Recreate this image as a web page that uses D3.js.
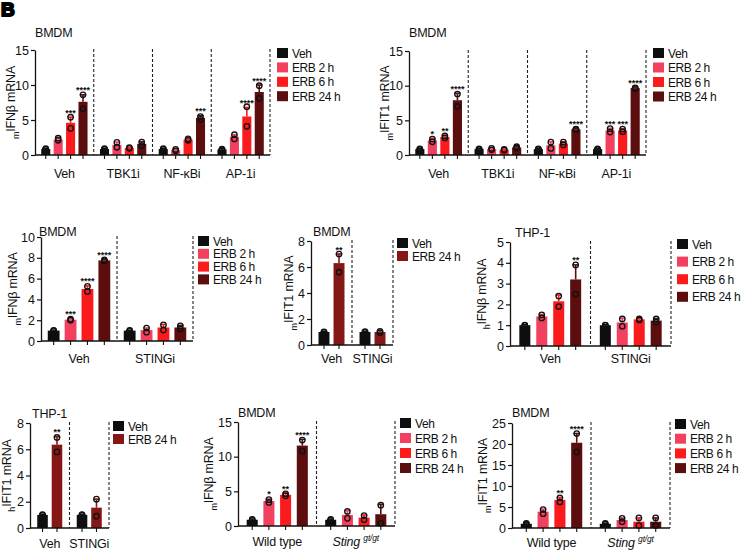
<!DOCTYPE html>
<html><head><meta charset="utf-8">
<script src="https://cdn.jsdelivr.net/npm/d3@7/dist/d3.min.js"></script>
<style>
html,body{margin:0;padding:0;background:#fff;}
svg{display:block;font-family:"Liberation Sans",Arial,sans-serif;}
</style></head>
<body><svg id="c" width="742" height="551"></svg>
<script>
// ---------- shared series ----------
const SERIES4 = ["Veh", "ERB 2 h", "ERB 6 h", "ERB 24 h"];
const SERIES2 = ["Veh", "ERB 24 h"];
const COLORS4 = ["#0e0e0e", "#f3405f", "#fb1b1d", "#5c0d0d"];
const COLORS2 = ["#0e0e0e", "#861717"];

// ---------- Panel A: BMDM mIFNβ ----------
const aGroups = ["Veh", "TBK1i", "NF-κBi", "AP-1i"];
const aMeans = [[0.85, 2.2, 4.6, 7.6], [0.85, 1.45, 1.0, 1.6], [0.85, 0.7, 2.2, 5.3], [0.8, 2.6, 5.5, 9.0]];
const aErr = [[0.1, 0.3, 0.8, 1.0], [0.1, 0.4, 0.1, 0.3], [0.1, 0.1, 0.1, 0.3], [0.1, 0.3, 1.3, 1.0]];
const aPts = [[[0.8, 0.9], [2.1, 2.4], [3.8, 5.4], [6.6, 8.6]], [[0.8, 0.9], [1.1, 1.8], [0.95, 1.05], [1.35, 1.85]],
              [[0.8, 0.9], [0.6, 0.8], [2.1, 2.3], [5.1, 5.5]], [[0.75, 0.85], [2.3, 2.9], [4.1, 6.9], [8.1, 9.9]]];
const aStars = [["", "", "***", "****"], ["", "", "", ""], ["", "", "", "***"], ["", "", "****", "****"]];
const aTicks = [0, 5, 10, 15];

// ---------- Panel B: BMDM mIFIT1 ----------
const bGroups = ["Veh", "TBK1i", "NF-κBi", "AP-1i"];
const bMeans = [[0.85, 2.1, 2.6, 7.9], [0.85, 0.85, 0.75, 1.1], [0.85, 1.4, 1.65, 3.7], [0.85, 3.55, 3.55, 9.65]];
const bErr = [[0.1, 0.3, 0.25, 1.0], [0.1, 0.1, 0.1, 0.1], [0.1, 0.5, 0.25, 0.1], [0.1, 0.3, 0.25, 0.15]];
const bPts = [[[0.8, 0.9], [1.9, 2.3], [2.45, 2.75], [7.0, 8.8]], [[0.8, 0.9], [0.75, 0.95], [0.7, 0.8], [1.0, 1.2]],
              [[0.8, 0.9], [0.95, 1.85], [1.45, 1.85], [3.65, 3.75]], [[0.8, 0.9], [3.3, 3.8], [3.35, 3.75], [9.6, 9.7]]];
const bStars = [["", "*", "**", "****"], ["", "", "", ""], ["", "", "", "****"], ["", "***", "***", "****"]];
const bTicks = [0, 5, 10, 15];

// ---------- Panel C: BMDM mIFNβ STINGi ----------
const cGroups = ["Veh", "STINGi"];
const cMeans = [[1.0, 2.05, 5.0, 7.75], [1.0, 1.05, 1.3, 1.3]];
const cErr = [[0.05, 0.07, 0.3, 0.07], [0.05, 0.2, 0.3, 0.2]];
const cPts = [[[0.97, 1.03], [2.0, 2.1], [4.75, 5.25], [7.7, 7.8]], [[0.97, 1.03], [0.85, 1.25], [1.05, 1.55], [1.15, 1.45]]];
const cStars = [["", "***", "****", "****"], ["", "", "", ""]];
const cTicks = [0, 2, 4, 6, 8, 10];

// ---------- Panel D: BMDM mIFIT1 STINGi ----------
const dGroups = ["Veh", "STINGi"];
const dMeans = [[1.0, 6.3], [1.0, 1.0]];
const dErr = [[0.05, 0.7], [0.05, 0.1]];
const dPts = [[[0.98, 1.02], [5.6, 7.0]], [[0.97, 1.03], [0.95, 1.05]]];
const dStars = [["", "**"], ["", ""]];
const dTicks = [0, 2, 4, 6, 8];

// ---------- Panel E: THP-1 hIFNβ ----------
const eGroups = ["Veh", "STINGi"];
const eMeans = [[1.0, 1.42, 2.15, 3.2], [1.0, 1.13, 1.28, 1.22]];
const eErr = [[0.03, 0.1, 0.3, 0.7], [0.03, 0.2, 0.05, 0.1]];
const ePts = [[[0.99, 1.01], [1.35, 1.5], [1.9, 2.4], [2.5, 3.9]], [[0.99, 1.01], [0.95, 1.3], [1.25, 1.3], [1.15, 1.3]]];
const eStars = [["", "", "", "**"], ["", "", "", ""]];
const eTicks = [0, 1, 2, 3, 4, 5];

// ---------- Panel F: THP-1 hIFIT1 ----------
const fGroups = ["Veh", "STINGi"];
const fMeans = [[1.0, 6.35], [1.0, 1.55]];
const fErr = [[0.05, 0.6], [0.05, 0.65]];
const fPts = [[[0.98, 1.02], [5.8, 6.9]], [[0.98, 1.02], [0.9, 2.2]]];
const fStars = [["", "**"], ["", ""]];
const fTicks = [0, 2, 4, 6, 8];

// ---------- Panel G: BMDM mIFNβ Sting gt/gt ----------
const gGroups = ["Wild type", "Sting"];
const gMeans = [[0.9, 3.6, 4.5, 11.6], [0.9, 1.6, 1.2, 1.7]];
const gErr = [[0.1, 0.3, 0.25, 0.9], [0.1, 0.6, 0.4, 1.4]];
const gPts = [[[0.85, 0.95], [3.4, 3.8], [4.35, 4.65], [10.8, 12.4]], [[0.85, 0.95], [1.1, 2.1], [0.9, 1.5], [0.4, 3.0]]];
const gStars = [["", "*", "**", "****"], ["", "", "", ""]];
const gTicks = [0, 5, 10, 15];

// ---------- Panel H: BMDM mIFIT1 Sting gt/gt ----------
const hGroups = ["Wild type", "Sting"];
const hMeans = [[1.0, 3.9, 6.7, 20.3], [1.0, 1.9, 1.5, 1.5]];
const hErr = [[0.2, 0.6, 0.6, 2.2], [0.1, 0.5, 0.9, 0.9]];
const hPts = [[[0.9, 1.1], [3.4, 4.4], [6.2, 7.2], [18.1, 22.5]], [[0.9, 1.1], [1.5, 2.3], [0.6, 2.4], [0.6, 2.4]]];
const hStars = [["", "", "**", "****"], ["", "", "", ""]];
const hTicks = [0, 5, 10, 15, 20, 25];

const svg = d3.select("#c");

// panel letter
svg.append("text").attr("x", 1).attr("y", 16).attr("font-size", 19).attr("font-weight", 900)
  .attr("stroke", "#000").attr("stroke-width", 2).text("B");

function panel(c) {
  const g = svg.append("g");
  const ymax = c.ticks[c.ticks.length - 1];
  const y = d3.scaleLinear().domain([0, ymax]).range([c.yb, c.yt]);
  const x = d3.scaleBand().domain(c.groups).range([c.x0, c.x1]);
  const xs = d3.scaleBand().domain(d3.range(c.series.length)).range([0, x.bandwidth()])
    .paddingInner(c.pi).paddingOuter(c.po);
  const bw = xs.bandwidth();

  // dashed separators
  c.groups.forEach(grp => {
    const xx = x(grp) + x.bandwidth();
    g.append("line").attr("x1", xx).attr("x2", xx).attr("y1", c.yt - 1).attr("y2", c.yb)
      .attr("stroke", "#222").attr("stroke-width", 1.1).attr("stroke-dasharray", "3,2");
  });

  // bars
  c.groups.forEach((grp, gi) => {
    c.means[gi].forEach((m, si) => {
      const cx = x(grp) + xs(si) + bw / 2;
      const col = c.colors[si];
      g.append("rect").attr("x", cx - bw / 2).attr("y", y(m)).attr("width", bw).attr("height", y(0) - y(m))
        .attr("fill", col);
      const top = m + c.err[gi][si];
      g.append("line").attr("x1", cx).attr("x2", cx).attr("y1", y(m)).attr("y2", y(top))
        .attr("stroke", col).attr("stroke-width", 1.6);
      g.append("line").attr("x1", cx - 3.2).attr("x2", cx + 3.2).attr("y1", y(top)).attr("y2", y(top))
        .attr("stroke", col).attr("stroke-width", 1.6);
      c.pts[gi][si].forEach(p => {
        g.append("circle").attr("cx", cx).attr("cy", y(p)).attr("r", 2.7)
          .attr("fill", "none").attr("stroke", "#111").attr("stroke-width", 1.3);
      });
      if (c.stars[gi][si]) {
        g.append("text").attr("x", cx).attr("y", y(top) - 1.5).attr("text-anchor", "middle")
          .attr("font-size", 9).attr("font-weight", "bold").attr("fill", "#111").text(c.stars[gi][si]);
      }
      // x tick
      g.append("line").attr("x1", cx).attr("x2", cx).attr("y1", c.yb).attr("y2", c.yb + 4)
        .attr("stroke", "#111").attr("stroke-width", 1.1);
    });
    // group label
    const lx = x(grp) + x.bandwidth() / 2;
    const t = g.append("text").attr("x", lx).attr("y", c.xly).attr("text-anchor", "middle")
      .attr("font-size", 12.5).attr("letter-spacing", -0.2).attr("fill", "#111");
    if (grp === "Sting") {
      t.append("tspan").attr("font-style", "italic").text("Sting ");
      t.append("tspan").attr("font-style", "italic").attr("font-size", 8.5).attr("dy", -5).text("gt/gt");
    } else {
      t.text(grp);
    }
  });

  // x axis line
  g.append("line").attr("x1", c.x0).attr("x2", c.x1).attr("y1", c.yb).attr("y2", c.yb)
    .attr("stroke", "#111").attr("stroke-width", 1.3);

  // y axis
  const ax = g.append("g").attr("transform", `translate(${c.x0},0)`)
    .call(d3.axisLeft(y).tickValues(c.ticks).tickSize(4).tickSizeOuter(0).tickPadding(2).tickFormat(d3.format("d")));
  ax.select(".domain").attr("stroke", "#111").attr("stroke-width", 1.3);
  ax.selectAll(".tick line").attr("stroke", "#111").attr("stroke-width", 1.2);
  ax.selectAll(".tick text").attr("font-size", 12.5).attr("fill", "#111")
    .attr("font-family", "Liberation Sans, Arial, sans-serif");

  // title
  g.append("text").attr("x", c.tx).attr("y", c.ty).attr("font-size", 12.5).attr("letter-spacing", -0.2)
    .attr("fill", "#111").text(c.title);

  // y label
  const ycen = (c.yt + c.yb) / 2;
  const yl = g.append("text").attr("transform", `translate(${c.ylx},${ycen}) rotate(-90)`)
    .attr("text-anchor", "middle").attr("font-size", 12.5).attr("letter-spacing", -0.2).attr("fill", "#111");
  yl.append("tspan").attr("font-size", 9).attr("dy", 4).text(c.ysub);
  yl.append("tspan").attr("dy", -4).text(c.ylab);

  // legend
  c.series.forEach((s, i) => {
    const ly = c.ly + i * c.ls;
    g.append("rect").attr("x", c.lx).attr("y", ly - c.lsz / 2).attr("width", c.lsz + 1).attr("height", c.lsz)
      .attr("fill", c.colors[i]);
    g.append("text").attr("x", c.lx + c.lsz + 5).attr("y", ly + 4.5).attr("font-size", 12)
      .attr("letter-spacing", -0.4).attr("fill", "#111").text(s);
  });
}

panel({groups: aGroups, means: aMeans, err: aErr, pts: aPts, stars: aStars, ticks: aTicks,
  series: SERIES4, colors: COLORS4, x0: 35, x1: 270, yt: 50, yb: 155, pi: 0.27, po: 0.5,
  xly: 178, tx: 35, ty: 37, title: "BMDM", ylx: 15, ysub: "m", ylab: "IFNβ mRNA",
  lx: 277, ly: 53, ls: 14.4, lsz: 10});

panel({groups: bGroups, means: bMeans, err: bErr, pts: bPts, stars: bStars, ticks: bTicks,
  series: SERIES4, colors: COLORS4, x0: 409, x1: 646, yt: 51, yb: 155, pi: 0.27, po: 0.5,
  xly: 178, tx: 409, ty: 37, title: "BMDM", ylx: 389, ysub: "m", ylab: "IFIT1 mRNA",
  lx: 653, ly: 53, ls: 14.5, lsz: 10});

panel({groups: cGroups, means: cMeans, err: cErr, pts: cPts, stars: cStars, ticks: cTicks,
  series: SERIES4, colors: COLORS4, x0: 41, x1: 193, yt: 237, yb: 341, pi: 0.3, po: 0.4,
  xly: 363, tx: 39, ty: 236, title: "BMDM", ylx: 17, ysub: "m", ylab: "IFNβ mRNA",
  lx: 198, ly: 241, ls: 12.8, lsz: 10});

panel({groups: dGroups, means: dMeans, err: dErr, pts: dPts, stars: dStars, ticks: dTicks,
  series: SERIES2, colors: COLORS2, x0: 311, x1: 393, yt: 241, yb: 345, pi: 0.27, po: 0.5,
  xly: 363, tx: 313, ty: 236, title: "BMDM", ylx: 293, ysub: "m", ylab: "IFIT1 mRNA",
  lx: 397, ly: 243, ls: 13, lsz: 10});

panel({groups: eGroups, means: eMeans, err: eErr, pts: ePts, stars: eStars, ticks: eTicks,
  series: SERIES4, colors: COLORS4, x0: 510, x1: 671, yt: 242, yb: 346, pi: 0.35, po: 0.55,
  xly: 363, tx: 515, ty: 237, title: "THP-1", ylx: 486, ysub: "h", ylab: "IFNβ mRNA",
  lx: 677, ly: 244, ls: 17.6, lsz: 10});

panel({groups: fGroups, means: fMeans, err: fErr, pts: fPts, stars: fStars, ticks: fTicks,
  series: SERIES2, colors: COLORS2, x0: 30, x1: 109, yt: 423, yb: 528, pi: 0.27, po: 0.5,
  xly: 548, tx: 32, ty: 418, title: "THP-1", ylx: 11, ysub: "h", ylab: "IFIT1 mRNA",
  lx: 113, ly: 426, ls: 13, lsz: 10});

panel({groups: gGroups, means: gMeans, err: gErr, pts: gPts, stars: gStars, ticks: gTicks,
  series: SERIES4, colors: COLORS4, x0: 238, x1: 395, yt: 422, yb: 526, pi: 0.34, po: 0.52,
  xly: 546, tx: 238, ty: 417, title: "BMDM", ylx: 213, ysub: "m", ylab: "IFNβ mRNA",
  lx: 400, ly: 423, ls: 15, lsz: 10});

panel({groups: hGroups, means: hMeans, err: hErr, pts: hPts, stars: hStars, ticks: hTicks,
  series: SERIES4, colors: COLORS4, x0: 512, x1: 670, yt: 423, yb: 528, pi: 0.34, po: 0.52,
  xly: 547, tx: 512, ty: 417, title: "BMDM", ylx: 487, ysub: "m", ylab: "IFIT1 mRNA",
  lx: 675, ly: 424, ls: 14.7, lsz: 10});
</script></body></html>
